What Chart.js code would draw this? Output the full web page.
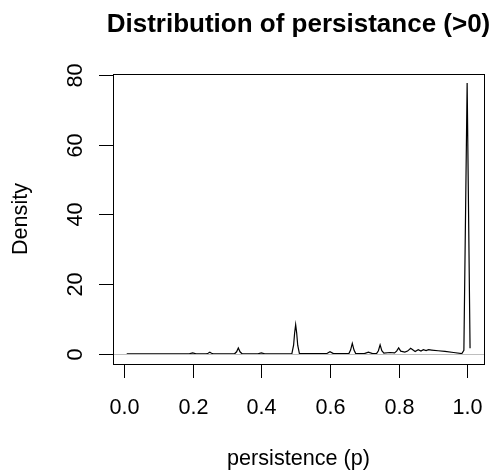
<!DOCTYPE html>
<html>
<head>
<meta charset="utf-8">
<script src="https://cdn.jsdelivr.net/npm/chart.js@4"></script>
<style>
  html, body { margin: 0; padding: 0; background: #fff; }
  canvas { display: block; }
</style>
</head>
<body>
<canvas id="chart" width="492" height="470"></canvas>
<script>
// density estimate
const persistence = [
  0.008, 0.1, 0.19, 0.2, 0.21, 0.24, 0.245, 0.25, 0.255, 0.26,
  0.322, 0.328, 0.333, 0.338, 0.344, 0.39, 0.4, 0.41,
  0.489, 0.494, 0.497, 0.5, 0.503, 0.506, 0.511,
  0.59, 0.6, 0.61, 0.655, 0.66, 0.665, 0.67, 0.675,
  0.7, 0.712, 0.724, 0.736, 0.741, 0.746, 0.751, 0.757,
  0.775, 0.788, 0.794, 0.8, 0.806, 0.818, 0.826, 0.835,
  0.848, 0.857, 0.865, 0.872, 0.88, 0.887, 0.896, 0.915,
  0.935, 0.96, 0.984, 0.99, 0.9995, 1.008
];
const density = [
  0.02, 0.02, 0.03, 0.3, 0.03, 0.03, 0.2, 0.5, 0.2, 0.03,
  0.03, 0.6, 1.7, 0.6, 0.03, 0.03, 0.3, 0.03,
  0.05, 2.5, 6.0, 8.4, 6.0, 2.5, 0.05,
  0.05, 0.65, 0.08, 0.1, 1.1, 3.0, 1.1, 0.1,
  0.1, 0.5, 0.1, 0.15, 0.9, 2.6, 0.9, 0.2,
  0.4, 0.3, 0.8, 1.7, 0.8, 0.5, 0.8, 1.6,
  0.7, 1.2, 0.8, 1.2, 0.95, 1.2, 1.1, 0.9,
  0.7, 0.4, 0.1, 1.0, 77.7, 1.6
];

const xTicks = [0, 0.2, 0.4, 0.6, 0.8, 1.0];
const yTicks = [0, 20, 40, 60, 80];

const FONT = '"Liberation Sans", Arial, Helvetica, sans-serif';

// R-style frame, ticks and labels
const baseFrame = {
  id: 'baseFrame',
  afterDatasetsDraw(chart) {
    const { ctx, chartArea: a, scales: { x, y } } = chart;
    ctx.save();

    // abline(h = 0, col = "gray")
    const y0 = Math.round(y.getPixelForValue(0)) + 0.5;
    ctx.strokeStyle = '#bebebe';
    ctx.lineWidth = 1;
    ctx.beginPath();
    ctx.moveTo(a.left, y0);
    ctx.lineTo(a.right, y0);
    ctx.stroke();

    // box
    ctx.strokeStyle = '#000';
    ctx.strokeRect(a.left + 0.5, a.top + 0.5, a.right - a.left, a.bottom - a.top);

    // x axis
    ctx.fillStyle = '#000';
    ctx.font = '21.6px ' + FONT;
    ctx.textAlign = 'center';
    ctx.textBaseline = 'alphabetic';
    xTicks.forEach(v => {
      const px = Math.round(x.getPixelForValue(v)) + 0.5;
      ctx.beginPath();
      ctx.moveTo(px, a.bottom + 0.5);
      ctx.lineTo(px, a.bottom + 14);
      ctx.stroke();
      ctx.fillText(v.toFixed(1), px, 414);
    });

    // y axis
    yTicks.forEach(v => {
      const py = Math.round(y.getPixelForValue(v)) + 0.5;
      ctx.beginPath();
      ctx.moveTo(a.left + 0.5, py);
      ctx.lineTo(a.left - 14, py);
      ctx.stroke();
      ctx.save();
      ctx.translate(82, py);
      ctx.rotate(-Math.PI / 2);
      ctx.fillText(String(v), 0, 0);
      ctx.restore();
    });

    // axis titles
    const midX = (a.left + a.right) / 2;
    const midY = (a.top + a.bottom) / 2;
    ctx.fillText('persistence (p)', midX, 465);
    ctx.save();
    ctx.translate(27, midY);
    ctx.rotate(-Math.PI / 2);
    ctx.fillText('Density', 0, 0);
    ctx.restore();

    // main title
    ctx.font = 'bold 26px ' + FONT;
    ctx.fillText('Distribution of persistance (>0)', midX, 32);

    ctx.restore();
  }
};

new Chart(document.getElementById('chart'), {
  type: 'line',
  data: {
    labels: persistence,
    datasets: [{
      data: persistence.map((p, i) => ({ x: p, y: density[i] })),
      borderColor: '#000',
      borderWidth: 1.2,
      pointRadius: 0,
      tension: 0,
      fill: false
    }]
  },
  options: {
    responsive: false,
    devicePixelRatio: 1,
    animation: false,
    layout: { padding: { left: 113, right: 8, top: 74, bottom: 106 } },
    plugins: {
      legend: { display: false },
      title: { display: false },
      tooltip: { enabled: false }
    },
    scales: {
      x: { type: 'linear', display: false, min: -0.032, max: 1.0486 },
      y: { type: 'linear', display: false, min: -2.9, max: 80.3 }
    }
  },
  plugins: [baseFrame]
});
</script>
</body>
</html>
